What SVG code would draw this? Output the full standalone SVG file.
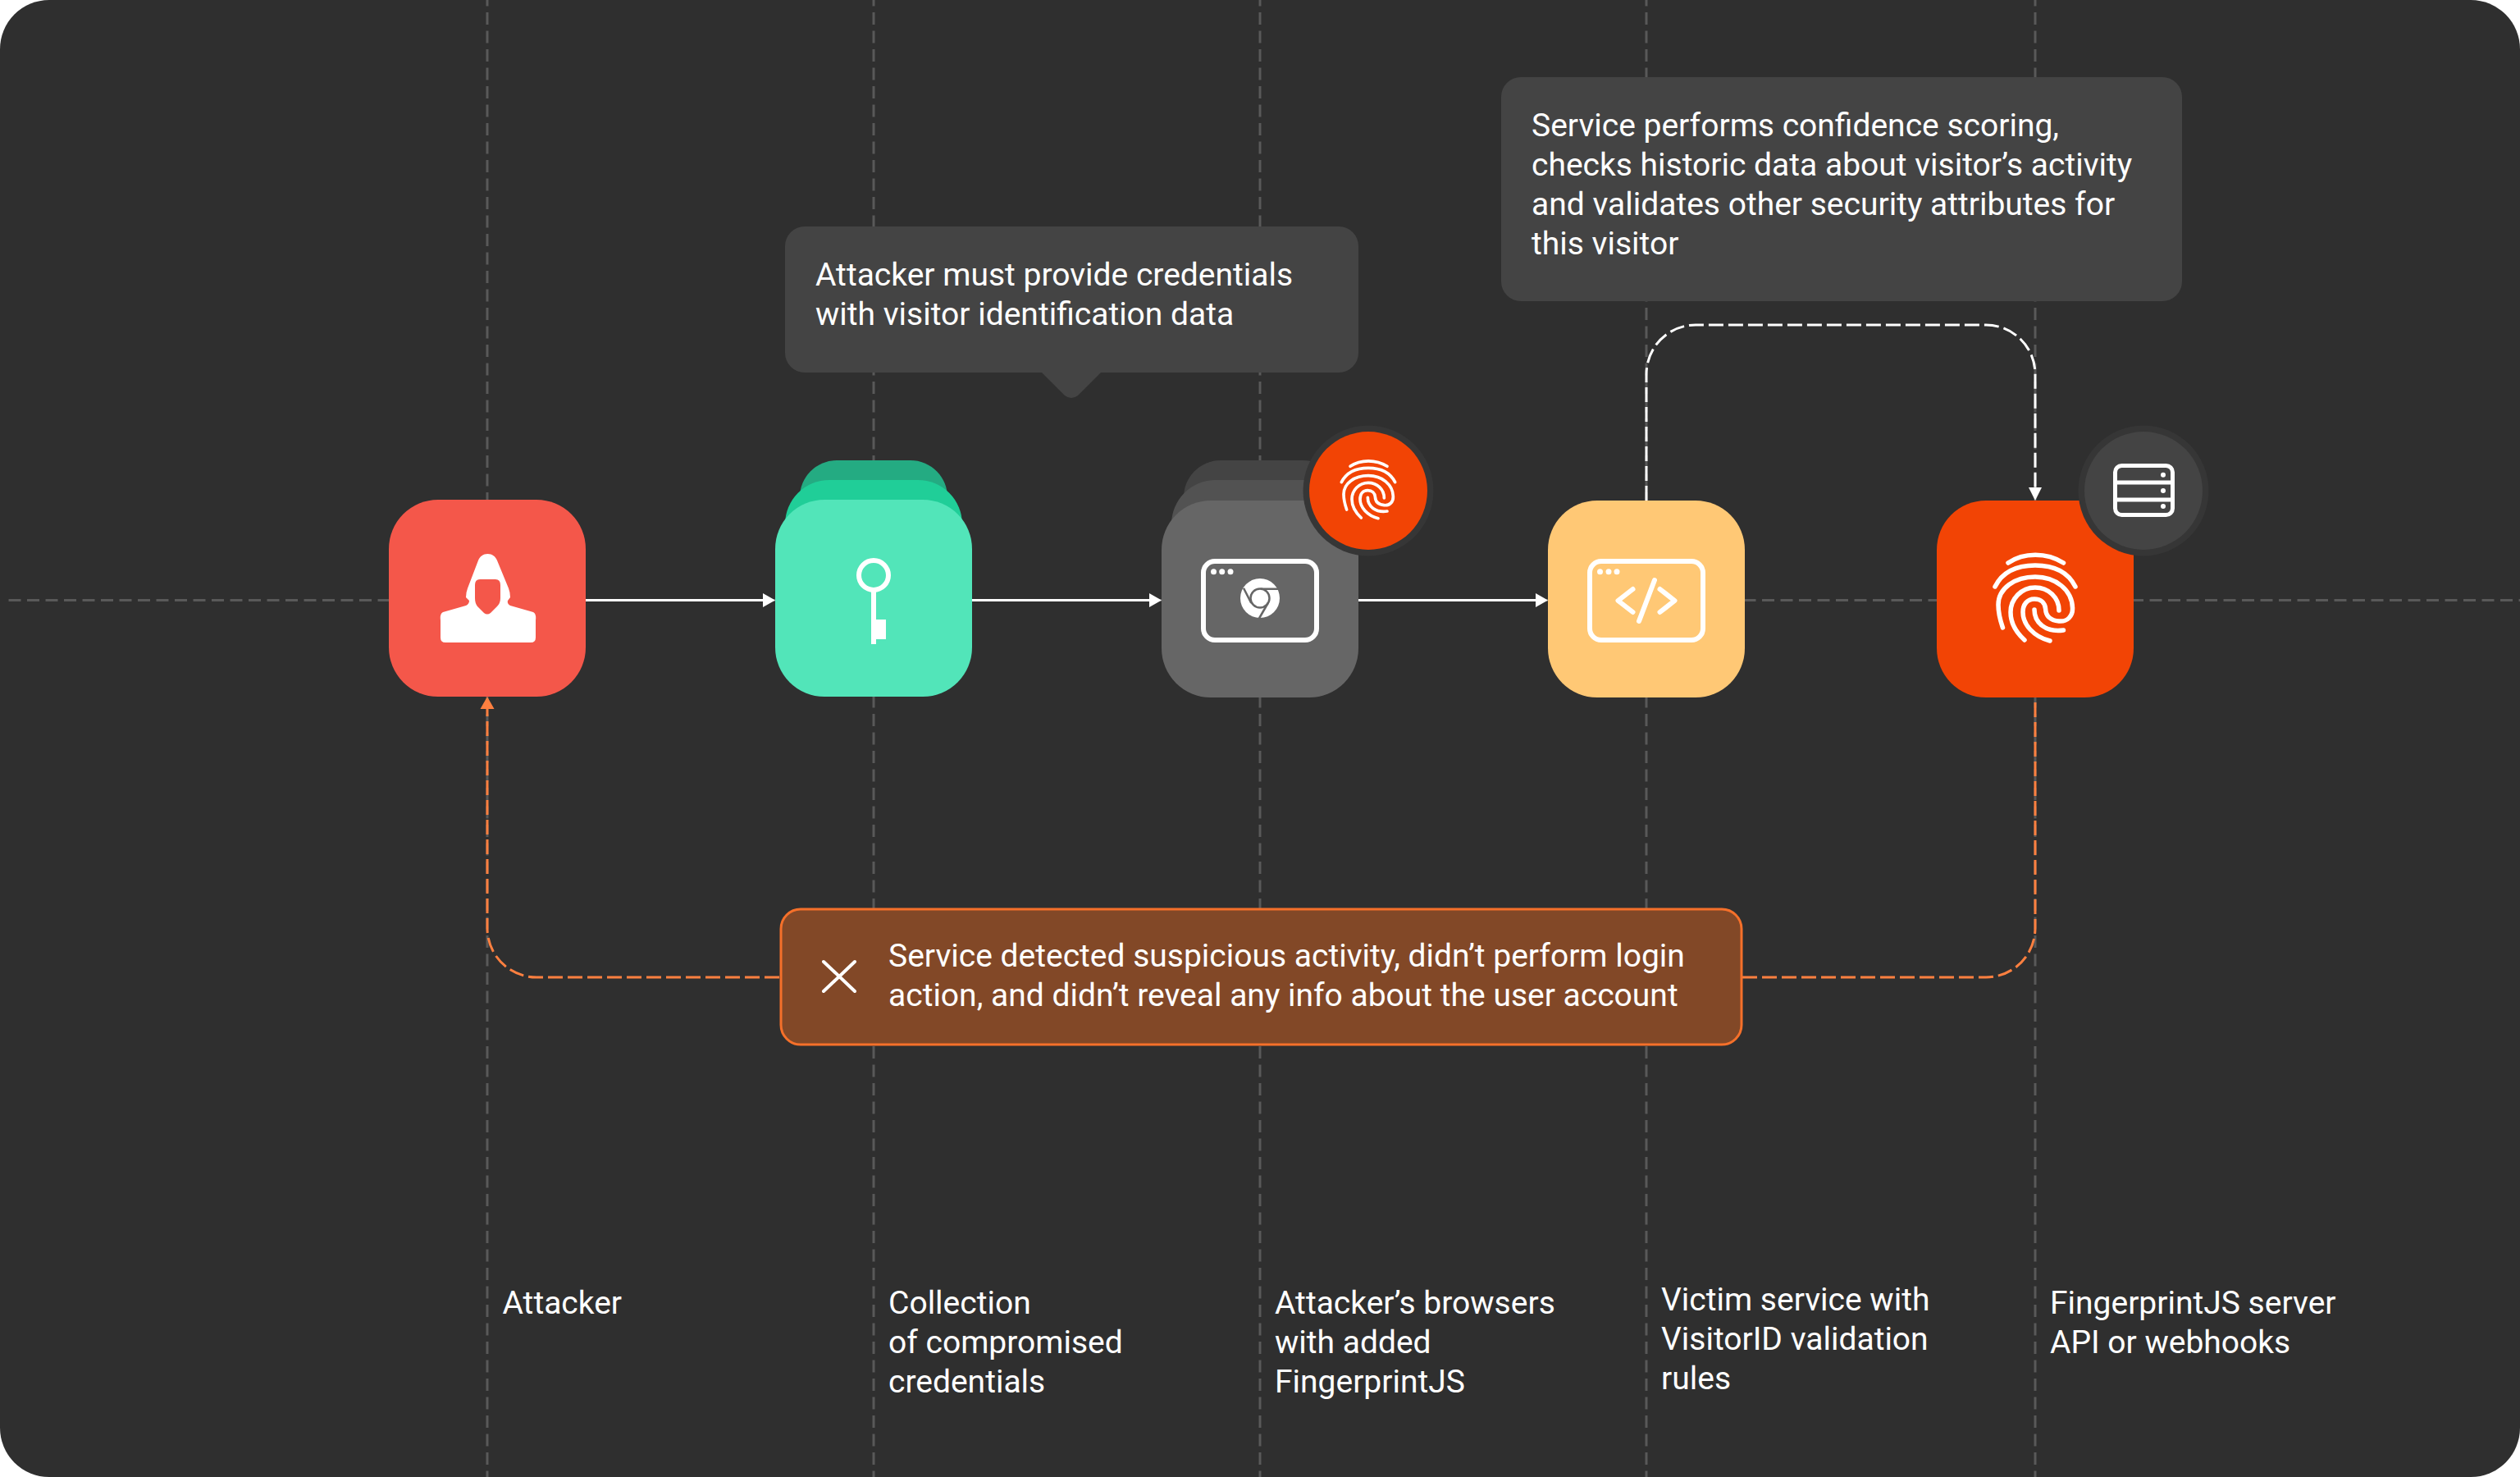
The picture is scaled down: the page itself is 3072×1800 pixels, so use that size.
<svg xmlns="http://www.w3.org/2000/svg" width="3072" height="1800" viewBox="0 0 3072 1800">
<style>
text{font-family:Roboto,"Liberation Sans",sans-serif;font-size:39px;fill:#fff}
.grid{fill:none;stroke:#595959;stroke-width:3;stroke-dasharray:15 7.500}
.flow{fill:none;stroke:#fff;stroke-width:3}
.wd{fill:none;stroke:#fff;stroke-width:3;stroke-dasharray:18 6}
.od{fill:none;stroke:#FF8040;stroke-width:3;stroke-dasharray:18 6}
.ic{fill:none;stroke:#fff;stroke-width:6;stroke-linecap:round;stroke-linejoin:round}
</style>
<defs>
<g id="fp" fill="none" stroke="#fff" stroke-width="5.500" stroke-linecap="round" stroke-linejoin="round">
<path d="M-33-43C-14-56 14-56 34.500-43"/>
<path d="M-49-14C-40-32-22-40 0-40C22-40 40-32 49-14"/>
<path d="M-39.500 36C-43 26-45 18-45 8C-45-12-25-26 0-26C25-26 45-10 45.500 12C46 22 39 29 29 28C18 27 13 22 12.600 13C12 6 7 1-1 1C-10 1-15 8-15 17C-15 32-2 47 18 52"/>
<path d="M29 15C29-1 16-13 0-13C-17-13-30 1-30 17C-30 30-24 41-13 51"/>
<path d="M-1 14C-1 30 13 42 34.500 39"/>
</g>
</defs>
<rect width="3072" height="1800" fill="#fff"/>
<rect width="3072" height="1800" rx="60" fill="#2F2F2F"/>
<g id="grid">
<path class="grid" d="M10.500 731.500H3072"/>
<path class="grid" stroke-dashoffset="7.500" d="M594 0V1800M1065 0V1800M1536 0V1800M2007 0V1800M2481 0V1800"/>
</g>
<g id="connectors">
<path class="flow" d="M714 731.500H932M1185 731.500H1403M1656 731.500H1874"/>
<path fill="#fff" d="M930 723l15 8.500-15 8.500zM1401 723l15 8.500-15 8.500zM1872 723l15 8.500-15 8.500z"/>
<path class="wd" d="M2007 610V456A60 60 0 0 1 2067 396H2421A60 60 0 0 1 2481 456V596"/>
<path fill="#fff" d="M2473 594h16l-8 16z"/>
<path class="od" d="M950 1191H654A60 60 0 0 1 594 1131V862"/>
<path fill="#FF8040" d="M585.500 864h17L594 849z"/>
<path class="od" d="M2124 1191H2421A60 60 0 0 0 2481 1131V850"/>
</g>
<g id="callout-credentials">
<path fill="#444" d="M981 276H1632a24 24 0 0 1 24 24V430a24 24 0 0 1-24 24H1342L1314 482q-8 6-16 0L1270 454H981a24 24 0 0 1-24-24V300a24 24 0 0 1 24-24z"/>
<text x="994" y="348">Attacker must provide credentials</text>
<text x="994" y="396">with visitor identification data</text>
</g>
<g id="callout-scoring">
<rect x="1830" y="94" width="830" height="273" rx="24" fill="#444"/>
<text x="1867" y="166">Service performs confidence scoring,</text>
<text x="1867" y="214">checks historic data about visitor’s activity</text>
<text x="1867" y="262">and validates other security attributes for</text>
<text x="1867" y="310">this visitor</text>
</g>
<g id="node-attacker">
<rect x="474" y="609" width="240" height="240" rx="60" fill="#F4574A"/>
<path fill="#fff" fill-rule="evenodd" d="M594.500 675C600 675 604 678 606 683L620 717Q622 722 622 728L619 732Q618 736 622 738L650 746Q654 748 653 756V777Q653 783 647 783H543Q537 783 537 777V756Q536 748 540 746L568 738Q572 736 572 732L568 728Q568 722 570 717L583 683C585 678 589 675 594.500 675ZM585 706Q579 706 579 713V729Q579 735 582 739L590 747Q594 750 598 747L606 739Q610 735 610 729V713Q610 706 604 706Z"/>
</g>
<g id="node-credentials">
<rect x="975" y="561" width="180" height="200" rx="45" fill="#24AB82"/>
<rect x="957" y="585" width="216" height="220" rx="54" fill="#20CE98"/>
<rect x="945" y="609" width="240" height="240" rx="60" fill="#52E5B9"/>
<circle cx="1065" cy="701" r="18" fill="none" stroke="#fff" stroke-width="6"/>
<path fill="#fff" d="M1062 721h6v34h12v24h-12v6h-6z"/>
</g>
<g id="node-browser">
<rect x="1443" y="561" width="190" height="200" rx="45" fill="#444"/>
<rect x="1428" y="585" width="216" height="220" rx="54" fill="#525252"/>
<rect x="1416" y="610" width="240" height="240" rx="60" fill="#666"/>
<rect x="1467" y="684" width="138" height="96" rx="14" fill="none" stroke="#fff" stroke-width="6"/>
<circle cx="1479.500" cy="696.700" r="3.500" fill="#fff"/><circle cx="1489.700" cy="696.700" r="3.500" fill="#fff"/><circle cx="1500" cy="696.700" r="3.500" fill="#fff"/>
<circle cx="1536" cy="729" r="24" fill="#fff"/>
<circle cx="1536" cy="729" r="11.500" fill="#fff" stroke="#666" stroke-width="2.500"/>
<path fill="none" stroke="#666" stroke-width="2.500" d="M1536.700 717.700H1558M1525.300 735L1516 716.700M1545.700 735L1535 753.500"/>
<circle cx="1668" cy="598" r="79.500" fill="#363636"/>
<circle cx="1668" cy="598" r="72" fill="#F24405"/>
<use href="#fp" transform="translate(1668 597) scale(.667)"/>
</g>
<g id="node-service">
<rect x="1887" y="610" width="240" height="240" rx="60" fill="#FFC875"/>
<rect x="1938" y="684" width="138" height="96" rx="14" fill="none" stroke="#fff" stroke-width="6"/>
<circle cx="1950.500" cy="696.700" r="3.500" fill="#fff"/><circle cx="1961" cy="696.700" r="3.500" fill="#fff"/><circle cx="1971" cy="696.700" r="3.500" fill="#fff"/>
<path class="ic" d="M1990.500 718L1972.500 732L1990.500 746M2023.500 718L2041.500 732L2023.500 746M2017 707L1998 757"/>
</g>
<g id="node-fingerprint">
<rect x="2361" y="610" width="240" height="240" rx="60" fill="#F24405"/>
<use href="#fp" transform="translate(2481 729)"/>
<circle cx="2613" cy="598" r="79.500" fill="#363636"/>
<circle cx="2613" cy="598" r="72" fill="#444"/>
<rect x="2578.500" y="567.500" width="70" height="60" rx="8" fill="none" stroke="#fff" stroke-width="5"/>
<path fill="none" stroke="#fff" stroke-width="5" d="M2578 588H2649M2578 609H2649"/>
<circle cx="2637" cy="578.700" r="3" fill="#fff"/><circle cx="2637" cy="598" r="3" fill="#fff"/><circle cx="2637" cy="617" r="3" fill="#fff"/>
</g>
<g id="alert">
<rect x="952" y="1108" width="1171" height="165" rx="24" fill="#824827" stroke="#F5702A" stroke-width="3"/>
<path fill="none" stroke="#fff" stroke-width="4" stroke-linecap="round" d="M1004 1172L1042 1208M1042 1172L1004 1208"/>
<text x="1083" y="1178">Service detected suspicious activity, didn’t perform login</text>
<text x="1083" y="1226">action, and didn’t reveal any info about the user account</text>
</g>
<g id="labels">
<text x="612.500" y="1601">Attacker</text>
<text x="1083" y="1601">Collection</text><text x="1083" y="1649">of compromised</text><text x="1083" y="1697">credentials</text>
<text x="1554" y="1601">Attacker’s browsers</text><text x="1554" y="1649">with added</text><text x="1554" y="1697">FingerprintJS</text>
<text x="2025" y="1597">Victim service with</text><text x="2025" y="1645">VisitorID validation</text><text x="2025" y="1693">rules</text>
<text x="2499" y="1601">FingerprintJS server</text><text x="2499" y="1649">API or webhooks</text>
</g>
</svg>
